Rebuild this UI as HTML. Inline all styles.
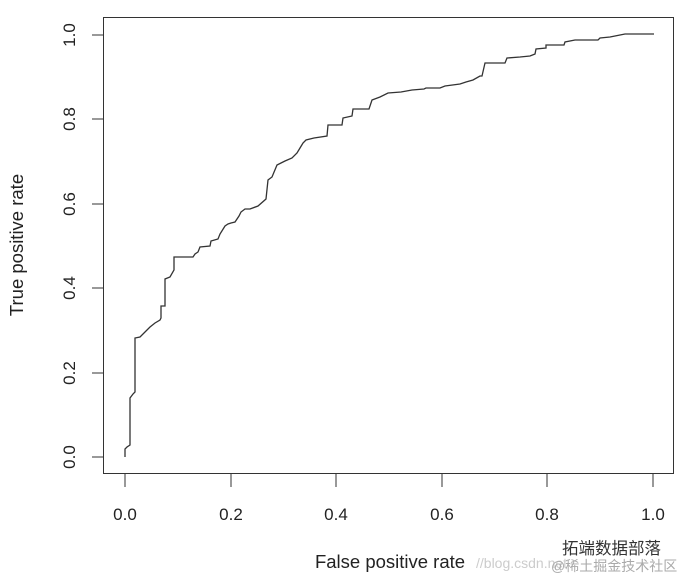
<!DOCTYPE html>
<html><head><style>body{margin:0;background:#fff}svg{display:block}</style></head><body>
<svg width="685" height="577" viewBox="0 0 685 577" xmlns="http://www.w3.org/2000/svg" font-family="Liberation Sans, sans-serif">
<rect x="103.5" y="17.5" width="570" height="456" fill="none" stroke="#333" stroke-width="1"/>
<g stroke="#333" stroke-width="1">
<line x1="125" y1="474" x2="125" y2="487"/><line x1="231" y1="474" x2="231" y2="487"/><line x1="336" y1="474" x2="336" y2="487"/><line x1="442" y1="474" x2="442" y2="487"/><line x1="547" y1="474" x2="547" y2="487"/><line x1="653" y1="474" x2="653" y2="487"/>
<line x1="103" y1="457" x2="92" y2="457"/><line x1="103" y1="373" x2="92" y2="373"/><line x1="103" y1="288" x2="92" y2="288"/><line x1="103" y1="204" x2="92" y2="204"/><line x1="103" y1="119" x2="92" y2="119"/><line x1="103" y1="35" x2="92" y2="35"/>
</g>
<g font-size="17" fill="#222" text-anchor="middle">
<text x="125" y="520">0.0</text><text x="231" y="520">0.2</text><text x="336" y="520">0.4</text><text x="442" y="520">0.6</text><text x="547" y="520">0.8</text><text x="653" y="520">1.0</text>
<text transform="translate(75,457) rotate(-90)">0.0</text><text transform="translate(75,373) rotate(-90)">0.2</text><text transform="translate(75,288) rotate(-90)">0.4</text><text transform="translate(75,204) rotate(-90)">0.6</text><text transform="translate(75,119) rotate(-90)">0.8</text><text transform="translate(75,35) rotate(-90)">1.0</text>
<text x="390" y="568" font-size="18.5">False positive rate</text>
<text transform="translate(23,245) rotate(-90)" font-size="18.5">True positive rate</text>
</g>
<polyline fill="none" stroke="#333" stroke-width="1.3" points="125,457 125,449 127,447 130,445 130,398 133,394 135,392 135,338 140,337 145,332 150,327 155,323 160,320 161,318 161,306 165,306 165,279 170,277 174,270 174,257 193,257 195,254 198,252 200,247 210,246 211,241 218,239 220,234 225,226 228,224 231,223 235,222 239,216 241,212 245,209 250,209 258,206 266,199 268,180 272,177 277,165 285,161 292,158 297,153 300,148 303,143 306,140 314,138 327,136 328,125 342,125 343,118 352,116 353,109 369,109 372,100 380,97 388,93 401,92 412,90 424,89 426,88 440,88 445,86 460,84 466,82 473,80 480,76 482,76 485,63 505,63 507,58 520,57 530,56 535,54 536,49 546,48 546,45 564,45 565,42 575,40 598,40 600,38 610,37 615,36 625,34 654,34"/>
<g font-family="Liberation Sans, Noto Sans CJK SC, sans-serif">
<text x="476" y="568" font-size="14" fill="#ccc">//blog.csdn.net</text>
<text x="562" y="554" font-size="16.5" fill="#333">拓端数据部落</text>
<text x="551" y="571" font-size="14" fill="#aaa">@稀土掘金技术社区</text>
</g>
</svg>
</body></html>
